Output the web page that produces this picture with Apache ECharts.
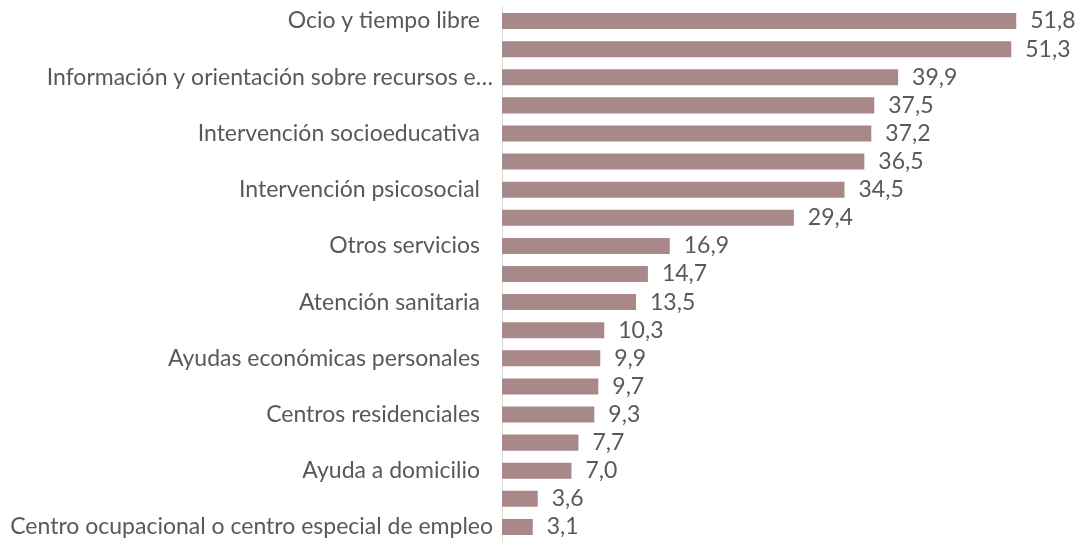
<!DOCTYPE html>
<html>
<head>
<meta charset="utf-8">
<script src="https://cdn.jsdelivr.net/npm/echarts@6/dist/echarts.min.js"></script>
<style>
  html, body { margin: 0; padding: 0; background: #fff; }
  #chart { width: 1078px; height: 543px; }
</style>
</head>
<body>
<div id="chart"></div>
<script>
// categorías (de arriba a abajo); solo se ven una de cada dos
const categories = [
  'Ocio y tiempo libre',
  'Actividades deportivas',
  'Información y orientación sobre recursos específicos',
  'Apoyo psicológico',
  'Intervención socioeducativa',
  'Formación',
  'Intervención psicosocial',
  'Rehabilitación',
  'Otros servicios',
  'Transporte adaptado',
  'Atención sanitaria',
  'Inserción laboral',
  'Ayudas económicas personales',
  'Centros de día',
  'Centros residenciales',
  'Asistencia personal',
  'Ayuda a domicilio',
  'Vivienda tutelada',
  'Centro ocupacional o centro especial de empleo'
]

const values = [51.8, 51.3, 39.9, 37.5, 37.2, 36.5, 34.5, 29.4, 16.9, 14.7, 13.5, 10.3, 9.9, 9.7, 9.3, 7.7, 7.0, 3.6, 3.1]

const textColor = '#595959'
const barColor = '#A98889'
const fontFamily = 'Lato, "Open Sans", sans-serif'

// recorta las etiquetas muy largas como en el original
const formatCategory = (name) => {
  if (name.length > 46) return '{l|' + name.slice(0, 42) + '…}'
  if (name.length > 40) return '{l|' + name + '}'
  return '{s|' + name + '}'
}

const chart = echarts.init(document.getElementById('chart'))

chart.setOption({
  animation: false,
  grid: {
    left: 502,
    top: 7,
    width: 546,
    height: 534
  },
  xAxis: {
    type: 'value',
    min: 0,
    max: 55,
    show: false
  },
  yAxis: {
    type: 'category',
    data: categories,
    inverse: true,
    axisLine: { show: true, lineStyle: { color: '#D9D9D9', width: 1 } },
    axisTick: { show: false },
    axisLabel: {
      interval: 1,
      margin: 9,
      formatter: formatCategory,
      rich: {
        s: { color: textColor, fontSize: 23, fontFamily: fontFamily, padding: [0, 13, 0, 0] },
        l: { color: textColor, fontSize: 23, fontFamily: fontFamily }
      }
    }
  },
  series: [
    {
      type: 'bar',
      data: values,
      barCategoryGap: '43%',
      itemStyle: { color: barColor },
      label: {
        show: true,
        position: 'right',
        distance: 14,
        color: textColor,
        fontSize: 23,
        fontFamily: fontFamily,
        formatter: (p) => p.value.toFixed(1).replace('.', ',')
      }
    }
  ]
})
</script>
</body>
</html>
